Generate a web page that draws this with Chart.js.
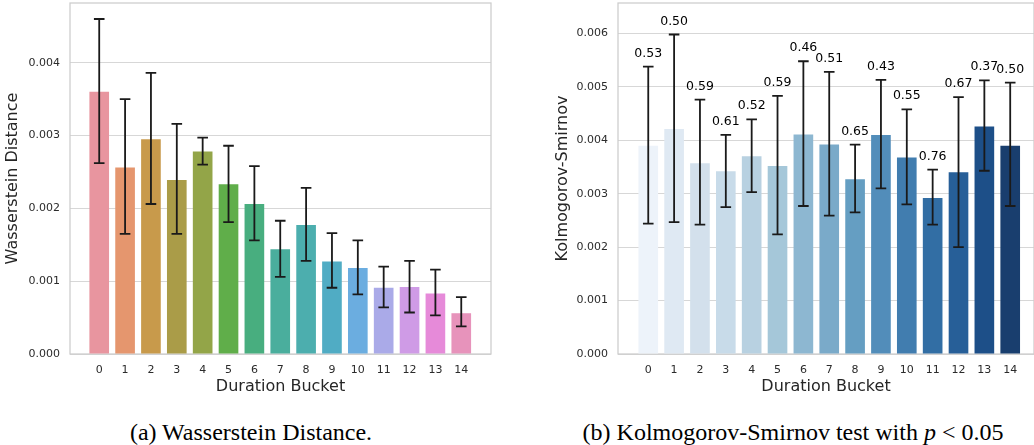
<!DOCTYPE html>
<html lang="en">
<head>
<meta charset="UTF-8" />
<title>Duration Bucket: Wasserstein / KS</title>
<script src="https://cdn.jsdelivr.net/npm/chart.js"></script>
<style>
  body { margin: 0; background: #fff; width: 1034px; height: 445px; position: relative; overflow: hidden; }
  canvas { position: absolute; top: 0; }
  #wassChart { left: 0; }
  #ksChart { left: 553px; }
  .caption { position: absolute; top: 418px; font-family: "Liberation Serif", "Times New Roman", serif; font-size: 24px; line-height: 28px; color: #000; white-space: nowrap; transform: translateX(-50%); }
</style>
</head>
<body>

<canvas id="wassChart" width="500" height="400"></canvas>
<canvas id="ksChart" width="481" height="400"></canvas>
<div class="caption" style="left: 251px;">(a) Wasserstein Distance.</div>
<div class="caption" style="left: 793px;">(b) Kolmogorov-Smirnov test with <i>p</i> &lt; 0.05</div>

<script>
  // Data
  const buckets = [0, 1, 2, 3, 4, 5, 6, 7, 8, 9, 10, 11, 12, 13, 14];

  const wassMean = [0.00360, 0.00256, 0.00295, 0.00239, 0.00278, 0.00233, 0.00206, 0.00144, 0.00177, 0.00127, 0.00118, 0.00091, 0.00092, 0.00083, 0.00056];
  const wassLow  = [0.00262, 0.00165, 0.00206, 0.00165, 0.00260, 0.00181, 0.00156, 0.00106, 0.00128, 0.00091, 0.00082, 0.00064, 0.00057, 0.00053, 0.00038];
  const wassHigh = [0.00460, 0.00350, 0.00386, 0.00316, 0.00297, 0.00286, 0.00258, 0.00183, 0.00228, 0.00166, 0.00156, 0.00120, 0.00128, 0.00116, 0.00078];
  const wassTicks = [0, 0.001, 0.002, 0.003, 0.004];

  const ksMean = [0.00390, 0.00421, 0.00357, 0.00342, 0.00370, 0.00352, 0.00411, 0.00392, 0.00327, 0.00410, 0.00368, 0.00292, 0.00340, 0.00426, 0.00390];
  const ksLow  = [0.00244, 0.00247, 0.00242, 0.00275, 0.00303, 0.00224, 0.00277, 0.00259, 0.00265, 0.00310, 0.00280, 0.00242, 0.00200, 0.00343, 0.00277];
  const ksHigh = [0.00538, 0.00598, 0.00476, 0.00410, 0.00439, 0.00483, 0.00548, 0.00528, 0.00392, 0.00513, 0.00458, 0.00345, 0.00481, 0.00512, 0.00508];
  const ksTicks = [0, 0.001, 0.002, 0.003, 0.004, 0.005, 0.006];
  const pValues = ['0.53', '0.50', '0.59', '0.61', '0.52', '0.59', '0.46', '0.51', '0.65', '0.43', '0.55', '0.76', '0.67', '0.37', '0.50'];

  // seaborn-ish palettes
  const huslColors = ['#e8959f', '#e5966e', '#c89a4b', '#aa9c48', '#93a548', '#60ae4a', '#48ae7f', '#4aae9d', '#4caeae', '#50acc4', '#6badE0', '#aaaae8', '#cf9be6', '#e68ad9', '#e793bb'];
  const bluesColors = ['#edf3fa', '#dfe9f3', '#d3e0ec', '#c8dbe9', '#b8d1e1', '#a5c7d9', '#8db7d1', '#7aaac9', '#659ec2', '#528dba', '#417daf', '#326ea4', '#275f98', '#1d4f88', '#193e6e'];

  const textColor = '#2b2b2b';

  // frame + error bars (+ optional labels above the caps)
  function errorBars(low, high, labels) {
    return {
      id: 'errorBars',
      beforeDatasetsDraw(chart) {
        const { ctx, chartArea: a } = chart;
        ctx.save();
        ctx.strokeStyle = '#cccccc';
        ctx.lineWidth = 1.25;
        ctx.strokeRect(a.left, a.top, a.right - a.left, a.bottom - a.top);
        ctx.restore();
      },
      afterDatasetsDraw(chart) {
        const { ctx } = chart;
        const xs = chart.scales.x, ys = chart.scales.y;
        ctx.save();
        ctx.strokeStyle = '#1a1a1a';
        ctx.fillStyle = '#000';
        ctx.lineWidth = 1.8;
        ctx.font = '12.5px "DejaVu Sans"';
        ctx.textAlign = 'center';
        ctx.textBaseline = 'bottom';
        buckets.forEach((b, i) => {
          const px = xs.getPixelForValue(b);
          const lo = ys.getPixelForValue(low[i]);
          const hi = ys.getPixelForValue(high[i]);
          ctx.beginPath();
          ctx.moveTo(px, lo); ctx.lineTo(px, hi);
          ctx.moveTo(px - 5.3, lo); ctx.lineTo(px + 5.3, lo);
          ctx.moveTo(px - 5.3, hi); ctx.lineTo(px + 5.3, hi);
          ctx.stroke();
          if (labels) ctx.fillText(labels[i], px, hi - 7);
        });
        ctx.restore();
      }
    };
  }

  function makeChart(id, cfg) {
    new Chart(document.getElementById(id), {
      type: 'bar',
      data: {
        datasets: [{
          data: buckets.map((b, i) => ({ x: b, y: cfg.mean[i] })),
          backgroundColor: cfg.colors,
          borderWidth: 0,
          barPercentage: 0.76,
          categoryPercentage: 1
        }]
      },
      options: {
        responsive: false,
        animation: false,
        layout: { padding: { top: 3, right: cfg.padRight, left: 0, bottom: 0 } },
        plugins: { legend: { display: false }, tooltip: { enabled: false } },
        scales: {
          x: {
            type: 'linear',
            offset: false,
            min: cfg.xMin,
            max: cfg.xMax,
            afterBuildTicks: s => { s.ticks = buckets.map(v => ({ value: v })); },
            afterFit: s => { s.height = 46; s.paddingLeft = 0; s.paddingRight = 0; },
            grid: { display: false, drawTicks: false },
            border: { display: false },
            ticks: { padding: 10, autoSkip: false, maxRotation: 0, color: textColor,
                     font: { family: 'DejaVu Sans', size: 11 }, callback: v => String(v) },
            title: { display: true, text: 'Duration Bucket', color: '#262626',
                     font: { family: 'DejaVu Sans', size: 16 }, padding: { top: 0, bottom: 4 } }
          },
          y: {
            min: 0,
            max: cfg.yMax,
            afterBuildTicks: s => { s.ticks = cfg.yTicks.map(v => ({ value: v })); },
            afterFit: s => { s.width = cfg.yWidth; s.paddingTop = 0; s.paddingBottom = 0; },
            grid: { color: '#d7d7d7', lineWidth: 1, drawTicks: false },
            border: { display: false },
            ticks: { padding: 10, color: textColor, font: { family: 'DejaVu Sans', size: 11 },
                     callback: v => v.toFixed(3) },
            title: { display: true, text: cfg.yTitle, color: '#262626',
                     font: { family: 'DejaVu Sans', size: 16 }, padding: { top: cfg.titlePad, bottom: 0 } }
          }
        }
      },
      plugins: [errorBars(cfg.low, cfg.high, cfg.labels)]
    });
  }

  makeChart('wassChart', {
    mean: wassMean, low: wassLow, high: wassHigh, colors: huslColors,
    yTicks: wassTicks, yMax: 0.00482, yTitle: 'Wasserstein Distance',
    xMin: -1.13, xMax: 15.15, yWidth: 70, padRight: 9, titlePad: 3
  });

  makeChart('ksChart', {
    mean: ksMean, low: ksLow, high: ksHigh, colors: bluesColors, labels: pValues,
    yTicks: ksTicks, yMax: 0.00657, yTitle: 'Kolmogorov-Smirnov',
    xMin: -1.17, xMax: 14.92, yWidth: 65, padRight: 0, titlePad: 0
  });
</script>

</body>
</html>
